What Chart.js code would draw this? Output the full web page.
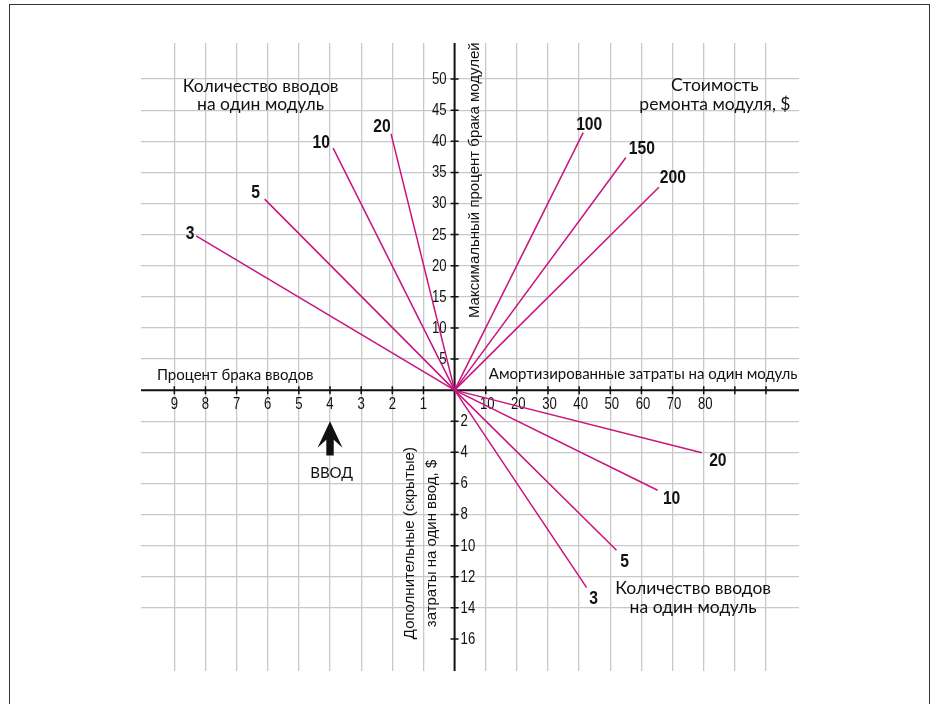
<!DOCTYPE html>
<html>
<head>
<meta charset="utf-8">
<script src="https://cdn.jsdelivr.net/npm/chart.js@4.4.0/dist/chart.umd.min.js"></script>
<style>
  html, body { margin: 0; padding: 0; background: #fff; }
  #wrap { position: relative; width: 936px; height: 704px; overflow: hidden; }
  #frame { position: absolute; left: 9px; top: 4px; width: 921px; height: 760px; border: 1.5px solid #333; box-sizing: border-box; }
  canvas { position: absolute; left: 0; top: 0; }
</style>
</head>
<body>
<div id="wrap"><div id="frame"></div><canvas id="nomogram" width="936" height="704"></canvas></div>
<script>
"use strict";

// tick labels on the four half-axes
const defectInputTicks = [9, 8, 7, 6, 5, 4, 3, 2, 1];                 // left, %
const costModuleTicks = [10, 20, 30, 40, 50, 60, 70, 80];              // right, $
const costModuleMarks = [10, 20, 30, 40, 50, 60, 70, 80, 90, 100];
const defectModuleTicks = [5, 10, 15, 20, 25, 30, 35, 40, 45, 50];     // up, %
const hiddenCostTicks = [2, 4, 6, 8, 10, 12, 14, 16];                  // down, $

// upper left: inputs per module
const ulInputs = ['3', '5', '10', '20'];
const ulDefectInput = [8.3, 6.1, 3.9, 2.04];
const ulDefectModule = [24.8, 30.7, 38.9, 41.2];

// upper right: repair cost of a module, $
const urRepair = ['100', '150', '200'];
const urCostModule = [41.3, 55.0, 65.6];
const urDefectModule = [41.4, 37.4, 32.6];

// lower right: inputs per module
const lrInputs = ['20', '10', '5', '3'];
const lrCostModule = [79.4, 65.2, 52.0, 42.4];
const lrHiddenCost = [4.03, 6.44, 10.3, 12.7];

// grid size in cells
const CELLS_LEFT = 10.07, CELLS_RIGHT = 11.06, CELLS_UP = 11.16, CELLS_DOWN = 9.03;
// value of one cell on every half-axis
const STEP_IN = 1, STEP_COST = 10, STEP_MOD = 5, STEP_HID = 2;

const MAGENTA = '#c8137f';
const PLAIN = '"Liberation Sans", Arial, sans-serif';
const TITLE = 'Lato, "Noto Sans", sans-serif';

function range(a, b) {
  let out = [];
  for (let i = a; i <= b; i++) out.push({value: i});
  return out;
}

// condensed text: no narrow face is installed, so squeeze the plain one
function fillNarrow(ctx, text, x, y, squeeze) {
  ctx.save();
  ctx.translate(x, y);
  ctx.scale(squeeze, 1);
  ctx.fillText(text, 0, 0);
  ctx.restore();
}

function makeLine(label, xs, ys, i, xAxis, yAxis, offsets) {
  return {
    label: label[i],
    data: [{x: 0, y: 0}, {x: xs[i], y: ys[i]}],
    xAxisID: xAxis,
    yAxisID: yAxis,
    showLine: true,
    borderColor: MAGENTA,
    borderWidth: 1.5,
    pointRadius: 0,
    labelOffset: offsets[i]
  };
}

let datasets = [];
const ulOffsets = [[-6, -3], [-9, -7], [-12, -6], [-9, -8]];
const urOffsets = [[6, -9], [16, -9], [14, -10]];
const lrOffsets = [[16, 7], [14, 8], [8, 11], [7, 10]];
ulInputs.forEach((n, i) => datasets.push(makeLine(ulInputs, ulDefectInput, ulDefectModule, i, 'xIn', 'yMod', ulOffsets)));
urRepair.forEach((n, i) => datasets.push(makeLine(urRepair, urCostModule, urDefectModule, i, 'xCost', 'yMod', urOffsets)));
lrInputs.forEach((n, i) => datasets.push(makeLine(lrInputs, lrCostModule, lrHiddenCost, i, 'xCost', 'yHid', lrOffsets)));

// captions, placed in grid cells
const captions = [
  {text: 'Количество вводов', x: -6.23, y: 9.78, font: '17.5px ' + TITLE},
  {text: 'на один модуль', x: -6.23, y: 9.20, font: '17.5px ' + TITLE},
  {text: 'Стоимость', x: 8.36, y: 9.81, font: '17.5px ' + TITLE},
  {text: 'ремонта модуля, $', x: 8.36, y: 9.20, font: '17.5px ' + TITLE},
  {text: 'Процент брака вводов', x: -9.56, y: 0.49, font: '15px ' + TITLE, align: 'left'},
  {text: 'Амортизированные затраты на один модуль', x: 1.1, y: 0.52, font: '15px ' + TITLE, align: 'left'},
  {text: 'Количество вводов', x: 7.66, y: -6.37, font: '17.5px ' + TITLE},
  {text: 'на один модуль', x: 7.66, y: -6.97, font: '17.5px ' + TITLE},
  {text: 'ВВОД', x: -3.95, y: -2.67, font: '15px ' + TITLE},
  {text: 'Максимальный процент брака модулей', x: 0.64, y: 6.75, font: '15px ' + PLAIN, rotate: true},
  {text: 'Дополнительные (скрытые)', x: -1.43, y: -4.92, font: '15px ' + PLAIN, rotate: true},
  {text: 'затраты на один ввод, $', x: -0.74, y: -4.93, font: '15px ' + PLAIN, rotate: true}
];

const nomogramPlugin = {
  id: 'nomogram',
  beforeDatasetsDraw(chart) {
    const ctx = chart.ctx, s = chart.scales, a = chart.chartArea;
    const x0 = s.x.getPixelForValue(0), y0 = s.y.getPixelForValue(0);
    ctx.save();
    ctx.strokeStyle = '#111';
    ctx.lineWidth = 2;
    ctx.beginPath();
    ctx.moveTo(a.left, y0); ctx.lineTo(a.right, y0);
    ctx.moveTo(x0, a.top); ctx.lineTo(x0, a.bottom);
    ctx.stroke();

    // tick marks
    ctx.lineWidth = 1.5;
    ctx.beginPath();
    defectInputTicks.forEach(v => { let p = s.xIn.getPixelForValue(v); ctx.moveTo(p, y0 - 4); ctx.lineTo(p, y0 + 4); });
    costModuleMarks.forEach(v => { let p = s.xCost.getPixelForValue(v); ctx.moveTo(p, y0 - 4); ctx.lineTo(p, y0 + 4); });
    defectModuleTicks.forEach(v => { let p = s.yMod.getPixelForValue(v); ctx.moveTo(x0 - 4, p); ctx.lineTo(x0 + 4, p); });
    hiddenCostTicks.forEach(v => { let p = s.yHid.getPixelForValue(v); ctx.moveTo(x0 - 4, p); ctx.lineTo(x0 + 4, p); });
    ctx.stroke();

    // tick labels
    ctx.fillStyle = '#111';
    ctx.font = '16px ' + PLAIN;
    ctx.textBaseline = 'middle';
    ctx.textAlign = 'center';
    defectInputTicks.forEach(v => fillNarrow(ctx, String(v), s.xIn.getPixelForValue(v), y0 + 14, 0.82));
    costModuleTicks.forEach(v => fillNarrow(ctx, String(v), s.xCost.getPixelForValue(v) + 1.5, y0 + 14, 0.82));
    ctx.textAlign = 'right';
    defectModuleTicks.forEach(v => fillNarrow(ctx, String(v), x0 - 8, s.yMod.getPixelForValue(v) + 0.5, 0.82));
    ctx.textAlign = 'left';
    hiddenCostTicks.forEach(v => fillNarrow(ctx, String(v), x0 + 6, s.yHid.getPixelForValue(v) + 0.5, 0.82));
    ctx.restore();
  },
  afterDatasetsDraw(chart) {
    const ctx = chart.ctx, s = chart.scales;
    ctx.save();
    ctx.fillStyle = '#111';
    ctx.textBaseline = 'middle';

    // numbers at the line ends
    ctx.font = 'bold 18px ' + PLAIN;
    ctx.textAlign = 'center';
    chart.data.datasets.forEach((ds, i) => {
      const end = chart.getDatasetMeta(i).data[1];
      fillNarrow(ctx, ds.label, end.x + ds.labelOffset[0], end.y + ds.labelOffset[1] + 1, 0.87);
    });

    // captions
    captions.forEach(c => {
      const px = s.x.getPixelForValue(c.x), py = s.y.getPixelForValue(c.y);
      ctx.font = c.font;
      ctx.textAlign = c.align || 'center';
      if (c.rotate) {
        ctx.save();
        ctx.translate(px, py);
        ctx.rotate(-Math.PI / 2);
        ctx.fillText(c.text, 0, 0);
        ctx.restore();
      } else {
        ctx.fillText(c.text, px, py);
      }
    });

    // input arrow under the axis at 4 %
    const ax = s.xIn.getPixelForValue(4);
    const top = s.yHid.getPixelForValue(2), bottom = s.yHid.getPixelForValue(4.2);
    ctx.beginPath();
    ctx.moveTo(ax, top);
    ctx.lineTo(ax + 12.5, top + 26.5);
    ctx.lineTo(ax + 3.7, top + 18.5);
    ctx.lineTo(ax + 3.7, bottom);
    ctx.lineTo(ax - 3.7, bottom);
    ctx.lineTo(ax - 3.7, top + 18.5);
    ctx.lineTo(ax - 12.5, top + 26.5);
    ctx.closePath();
    ctx.fill();
    ctx.restore();
  }
};

function gridColor(c) {
  return c.tick.value === 0 ? 'rgba(0,0,0,0)' : '#c8c8c8';
}

new Chart(document.getElementById('nomogram'), {
  type: 'scatter',
  data: {datasets: datasets},
  options: {
    responsive: false,
    animation: false,
    devicePixelRatio: 1,
    layout: {padding: {left: 141, right: 137, top: 43, bottom: 33}},
    plugins: {legend: {display: false}, tooltip: {enabled: false}},
    scales: {
      x: {
        type: 'linear', min: -CELLS_LEFT, max: CELLS_RIGHT,
        afterBuildTicks: sc => { sc.ticks = range(-9, 10); },
        ticks: {display: false},
        border: {display: false},
        grid: {drawTicks: false, color: gridColor, lineWidth: 1.3}
      },
      y: {
        type: 'linear', min: -CELLS_DOWN, max: CELLS_UP,
        afterBuildTicks: sc => { sc.ticks = range(-7, 10); },
        ticks: {display: false},
        border: {display: false},
        grid: {drawTicks: false, color: gridColor, lineWidth: 1.3}
      },
      xIn: {axis: 'x', type: 'linear', display: false, reverse: true, min: -CELLS_RIGHT * STEP_IN, max: CELLS_LEFT * STEP_IN},
      xCost: {axis: 'x', type: 'linear', display: false, min: -CELLS_LEFT * STEP_COST, max: CELLS_RIGHT * STEP_COST},
      yMod: {axis: 'y', type: 'linear', display: false, min: -CELLS_DOWN * STEP_MOD, max: CELLS_UP * STEP_MOD},
      yHid: {axis: 'y', type: 'linear', display: false, reverse: true, min: -CELLS_UP * STEP_HID, max: CELLS_DOWN * STEP_HID}
    }
  },
  plugins: [nomogramPlugin]
});
</script>
</body>
</html>
